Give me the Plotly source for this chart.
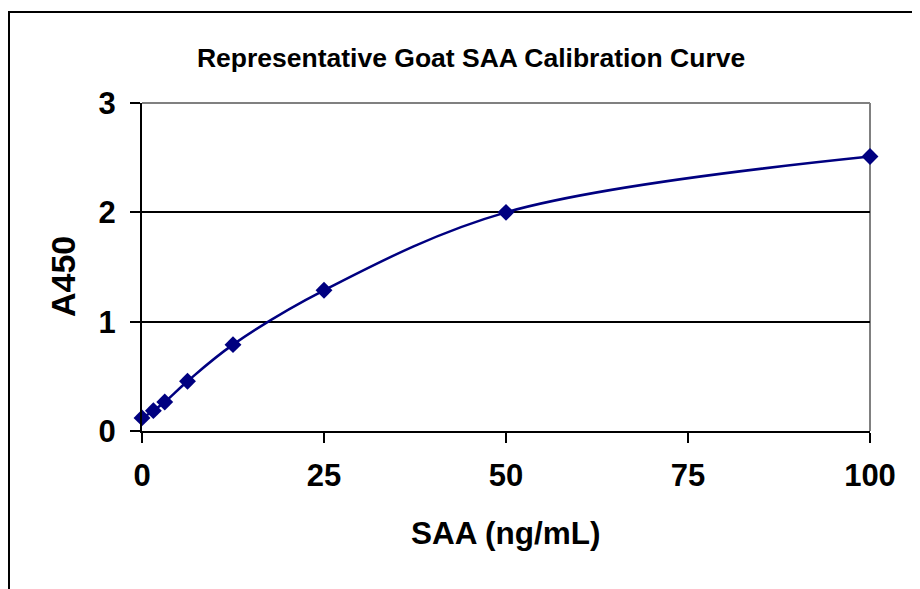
import plotly.graph_objects as go

# Data
saa_conc = [0, 1.5625, 3.125, 6.25, 12.5, 25, 50, 100]
a450 = [0.12, 0.186, 0.265, 0.455, 0.79, 1.287, 2.0, 2.51]
x_ticks = [0, 25, 50, 75, 100]
y_ticks = [0, 1, 2, 3]

FONT = "Liberation Sans, Arial, sans-serif"
NAVY = "#000080"

fig = go.Figure()
fig.add_trace(go.Scatter(
    x=saa_conc, y=a450, mode="lines+markers",
    line=dict(color=NAVY, width=2.5, shape="spline", smoothing=1.0),
    marker=dict(symbol="diamond", size=13, color=NAVY),
    cliponaxis=False, showlegend=False,
))

# page body has an 8px margin; margins compensate so plot area sits at 142..870 x 103..431
fig.update_layout(
    width=920, height=589,
    margin=dict(l=134, r=58, t=95, b=166),
    paper_bgcolor="white", plot_bgcolor="white",
    font=dict(family=FONT, color="black"),
    title=dict(text="Representative Goat SAA Calibration Curve",
               font=dict(family=FONT, size=26.5, weight="bold", color="black"),
               x=0.452, xref="paper", xanchor="center",
               y=1 - 50 / 589, yref="container", yanchor="middle"),
    xaxis=dict(range=[0, 100], tickvals=x_ticks, showgrid=False, zeroline=False,
               showline=True, linecolor="black", linewidth=2,
               ticks="outside", ticklen=10, tickwidth=2, tickcolor="black",
               tickfont=dict(family=FONT, size=31, weight="bold"),
               ticklabelstandoff=6),
    yaxis=dict(range=[0, 3], tickvals=y_ticks, showgrid=True, gridcolor="black", gridwidth=2,
               zeroline=False,
               showline=True, linecolor="black", linewidth=2,
               ticks="outside", ticklen=10, tickwidth=2, tickcolor="black",
               tickfont=dict(family=FONT, size=31, weight="bold"),
               ticklabelstandoff=8),
    annotations=[
        dict(text="SAA (ng/mL)", xref="paper", yref="paper",
             x=(506 - 142) / 728, y=-(533 - 431) / 328, xanchor="center", yanchor="middle",
             showarrow=False, font=dict(family=FONT, size=31.5, weight="bold")),
        dict(text="A450", xref="paper", yref="paper", textangle=-90,
             x=(63 - 142) / 728, y=1 - (277 - 103) / 328, xanchor="center", yanchor="middle",
             showarrow=False, font=dict(family=FONT, size=34, weight="bold")),
    ],
    shapes=[
        # plot-area frame: top (above grid) and right (below data)
        dict(type="line", xref="x domain", yref="y domain", x0=0, x1=1, y0=1, y1=1,
             line=dict(color="#808080", width=2), layer="above"),
        dict(type="line", xref="x domain", yref="y domain", x0=1, x1=1, y0=0, y1=1,
             line=dict(color="#808080", width=2), layer="below"),
        # outer chart border (extends past the window on right/bottom)
        dict(type="rect", xref="paper", yref="paper", x0=-0.1827, x1=1.3, y0=-0.7, y1=1.2774,
             line=dict(color="black", width=2), layer="below"),
    ],
)

fig.write_html("out.html")
